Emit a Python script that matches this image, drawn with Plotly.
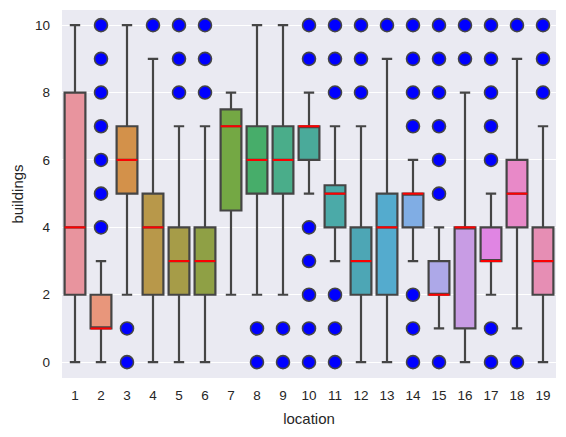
import plotly.graph_objects as go

locations = [str(i) for i in range(1, 20)]
q1 = [2, 1, 5, 2, 2, 2, 4.5, 5, 5, 6, 4, 2, 2, 4, 2, 1, 3, 4, 2]
median = [4, 1, 6, 4, 3, 3, 7, 6, 6, 7, 5, 3, 4, 5, 2, 4, 3, 5, 3]
q3 = [8, 2, 7, 5, 4, 4, 7.5, 7, 7, 7, 5.25, 4, 5, 5, 3, 4, 4, 6, 4]
lower_whisker = [0, 0, 2, 0, 0, 0, 2, 2, 2, 5, 3, 0, 0, 3, 1, 0, 2, 1, 0]
upper_whisker = [10, 3, 10, 9, 7, 7, 8, 10, 10, 8, 7, 7, 9, 6, 4, 8, 5, 9, 7]
outliers = [
    [],
    [4, 5, 6, 7, 8, 9, 10],
    [0, 1],
    [10],
    [8, 9, 10],
    [8, 9, 10],
    [],
    [0, 1],
    [0, 1],
    [0, 1, 2, 3, 4, 9, 10],
    [0, 1, 2, 8, 9, 10],
    [8, 9, 10],
    [10],
    [0, 1, 2, 7, 8, 9, 10],
    [0, 5, 6, 7, 8, 9, 10],
    [9, 10],
    [0, 1, 6, 7, 8, 9, 10],
    [0, 10],
    [8, 9, 10],
]
colors = ["#E8949E", "#E8967B", "#D3914A", "#B8984A", "#A69C48", "#8FA045",
          "#74A844", "#47AD6A", "#4AAD8A", "#4AAA9A", "#4BAAA8", "#4DA6B5",
          "#54ABCE", "#80ADE4", "#ADA8E8", "#C89CE4", "#E085E3", "#E889C8",
          "#E68EB4"]

EDGE = "#454545"
BOXW = 0.8

fig = go.Figure()
for i in range(len(locations)):
    fig.add_trace(go.Box(
        x=[i], q1=[q1[i]], median=[median[i]], q3=[q3[i]],
        lowerfence=[lower_whisker[i]], upperfence=[upper_whisker[i]],
        width=BOXW, whiskerwidth=0.5, fillcolor=colors[i],
        line=dict(color=EDGE, width=2.2), boxpoints=False, showlegend=False,
        hoverinfo="skip"))

# red median lines
mx, my = [], []
for i in range(len(locations)):
    mx += [i - BOXW / 2, i + BOXW / 2, None]
    my += [median[i], median[i], None]
fig.add_trace(go.Scatter(x=mx, y=my, mode="lines",
                         line=dict(color="red", width=2), showlegend=False,
                         hoverinfo="skip"))

# outliers
ox, oy = [], []
for i, vals in enumerate(outliers):
    for v in vals:
        ox.append(i)
        oy.append(v)
fig.add_trace(go.Scatter(x=ox, y=oy, mode="markers",
                         marker=dict(color="blue", size=13,
                                     line=dict(color=EDGE, width=1.6)),
                         showlegend=False, hoverinfo="skip"))

font = dict(family="Liberation Sans, Arial, sans-serif", color="#262626")
fig.update_layout(
    width=566, height=437,
    margin=dict(l=62, r=10, t=10, b=59),
    paper_bgcolor="white", plot_bgcolor="#EAEAF2",
    boxmode="overlay",
    font=dict(**font, size=13),
    xaxis=dict(range=[-0.5, 18.5], tickmode="array",
               tickvals=list(range(len(locations))), ticktext=locations,
               showgrid=False, zeroline=False, showline=False, ticks="",
               ticklabelstandoff=7,
               title=dict(text="location", font=dict(size=15), standoff=11),
               tickfont=dict(size=13.5)),
    yaxis=dict(range=[-0.47, 10.45], tickvals=[0, 2, 4, 6, 8, 10],
               showgrid=True, gridcolor="white", gridwidth=1.3,
               zeroline=False, showline=False, ticks="",
               ticklabelstandoff=11,
               title=dict(text="buildings", font=dict(size=15), standoff=7),
               tickfont=dict(size=13.5)),
)

fig.write_html("out.html")
